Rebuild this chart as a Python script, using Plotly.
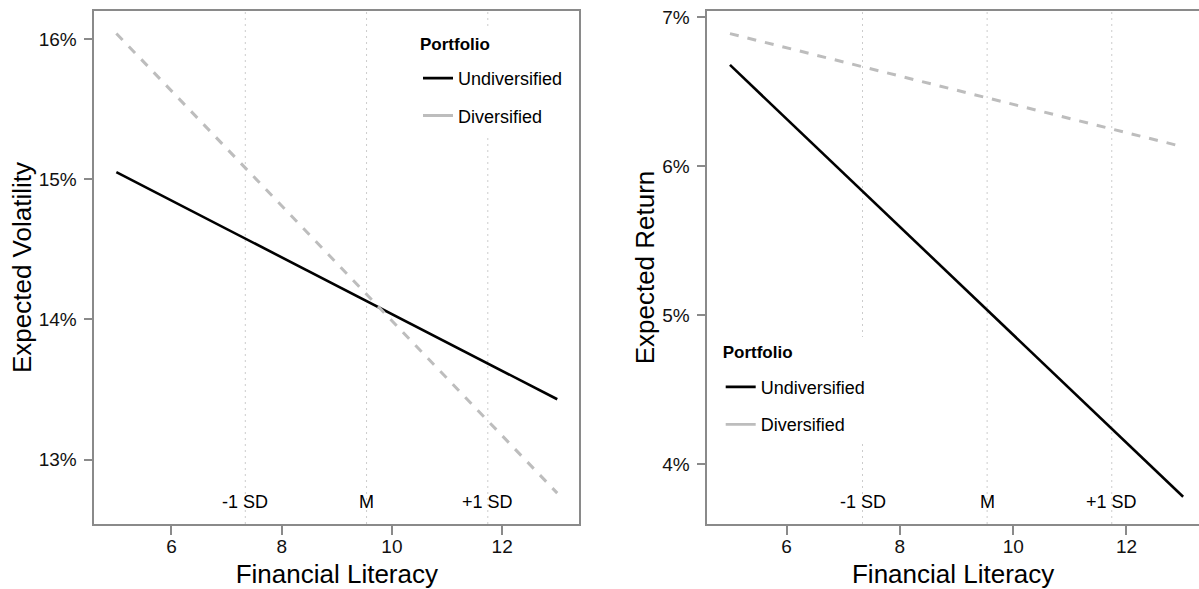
import plotly.graph_objects as go

# ---- data ----
literacy = [5, 13]
vol_undiversified = [15.05, 13.43]
vol_diversified = [16.04, 12.76]
ret_undiversified = [6.68, 3.78]
ret_diversified = [6.89, 6.13]

ref_lines = [7.34, 9.54, 11.74]
ref_labels = ["-1 SD", "M", "+1 SD"]

x_ticks = [6, 8, 10, 12]
vol_ticks = [13, 14, 15, 16]
ret_ticks = [4, 5, 6, 7]
series_names = ["Undiversified", "Diversified"]

W, H = 1199, 589
TOP, BOTTOM = 10.7, 524.0          # panel top / bottom in pixels
PH = BOTTOM - TOP
FONT = "Liberation Sans, Arial, Helvetica, sans-serif"
AXIS_COL = "#8a8a8a"
UNDIV_COL = "#000000"
DIV_COL = "#bdbdbd"


def py(pix):
    """pixel row -> paper y"""
    return (BOTTOM - pix) / PH


fig = go.Figure()

panels = [
    ("x", "y", vol_undiversified, vol_diversified, "legend"),
    ("x2", "y2", ret_undiversified, ret_diversified, "legend2"),
]
for xa, ya, undiv, div, leg in panels:
    fig.add_trace(go.Scatter(x=literacy, y=undiv, mode="lines",
                             line=dict(color=UNDIV_COL, width=2.6),
                             xaxis=xa, yaxis=ya, showlegend=False,
                             hoverinfo="skip"))
    fig.add_trace(go.Scatter(x=literacy, y=div, mode="lines",
                             line=dict(color=DIV_COL, width=3, dash="9px,9px"),
                             xaxis=xa, yaxis=ya, showlegend=False,
                             hoverinfo="skip"))
    # legend keys (solid, like the reference legend)
    for name, col in zip(series_names, [UNDIV_COL, DIV_COL]):
        fig.add_trace(go.Scatter(x=[None], y=[None], mode="lines", name=name,
                                 line=dict(color=col, width=2.8),
                                 xaxis=xa, yaxis=ya, legend=leg,
                                 legendgroup=leg + name, showlegend=True))
    for v, lab in zip(ref_lines, ref_labels):
        fig.add_shape(type="line", xref=xa, yref=ya + " domain",
                      x0=v, x1=v, y0=0, y1=1, layer="below",
                      line=dict(color="#cccccc", width=1, dash="2px,4px"))
        fig.add_annotation(x=v, y=0.043, xref=xa, yref=ya + " domain",
                           text=lab, showarrow=False, yanchor="middle",
                           font=dict(size=18, color="#000", family=FONT))


def xaxis_style(domain, rng):
    return dict(domain=domain, range=rng, tickvals=x_ticks,
                ticktext=[str(t) for t in x_ticks], ticks="outside",
                ticklen=9, tickwidth=2, tickcolor=AXIS_COL,
                ticklabelstandoff=-5,
                showline=True, linecolor=AXIS_COL, linewidth=1.6, mirror=True,
                showgrid=False, zeroline=False,
                tickfont=dict(size=19, color="#111", family=FONT),
                title=dict(text="Financial Literacy", standoff=11,
                           font=dict(size=26, color="#000", family=FONT)),
                automargin=False)


def yaxis_style(rng, ticks, title, mirror):
    return dict(domain=[0, 1], range=rng, tickvals=ticks,
                ticktext=[f"{t}%" for t in ticks],
                ticks="outside", ticklen=9, tickwidth=2, tickcolor=AXIS_COL,
                ticklabelstandoff=3,
                showline=True, linecolor=AXIS_COL, linewidth=1.6, mirror=mirror,
                showgrid=False, zeroline=False,
                tickfont=dict(size=19, color="#111", family=FONT),
                title=dict(text=title, standoff=0,
                           font=dict(size=26, color="#000", family=FONT)),
                automargin=False)


legend_common = dict(bgcolor="white", borderwidth=0,
                     font=dict(size=18, color="#000", family=FONT),
                     title=dict(text="<sup><b>Portfolio</b></sup>",
                                font=dict(size=24.3, color="#000", family=FONT)),
                     tracegroupgap=11, traceorder="grouped",
                     xanchor="left", yanchor="top", itemclick=False)

fig.update_layout(
    width=W, height=H,
    margin=dict(l=0, r=0, t=TOP, b=H - BOTTOM),
    paper_bgcolor="white", plot_bgcolor="white",
    font=dict(family=FONT, color="#000"),
    xaxis=dict(xaxis_style([94.3 / W, 579.3 / W], [4.6, 13.4]), anchor="y"),
    yaxis=dict(yaxis_style([12.54, 16.2], vol_ticks, "Expected Volatility", True),
               anchor="x"),
    xaxis2=dict(xaxis_style([707.3 / W, 1.0], [4.6, 13.28]), anchor="y2"),
    yaxis2=dict(yaxis_style([3.597, 7.042], ret_ticks, "Expected Return", False),
                anchor="x2"),
    legend=dict(legend_common, x=418 / W, y=py(28)),
    legend2=dict(legend_common, x=720.7 / W, y=py(337)),
    showlegend=True,
)

fig.write_html("out.html", config={"displayModeBar": False},
               post_script="document.body.style.margin='0px';")
